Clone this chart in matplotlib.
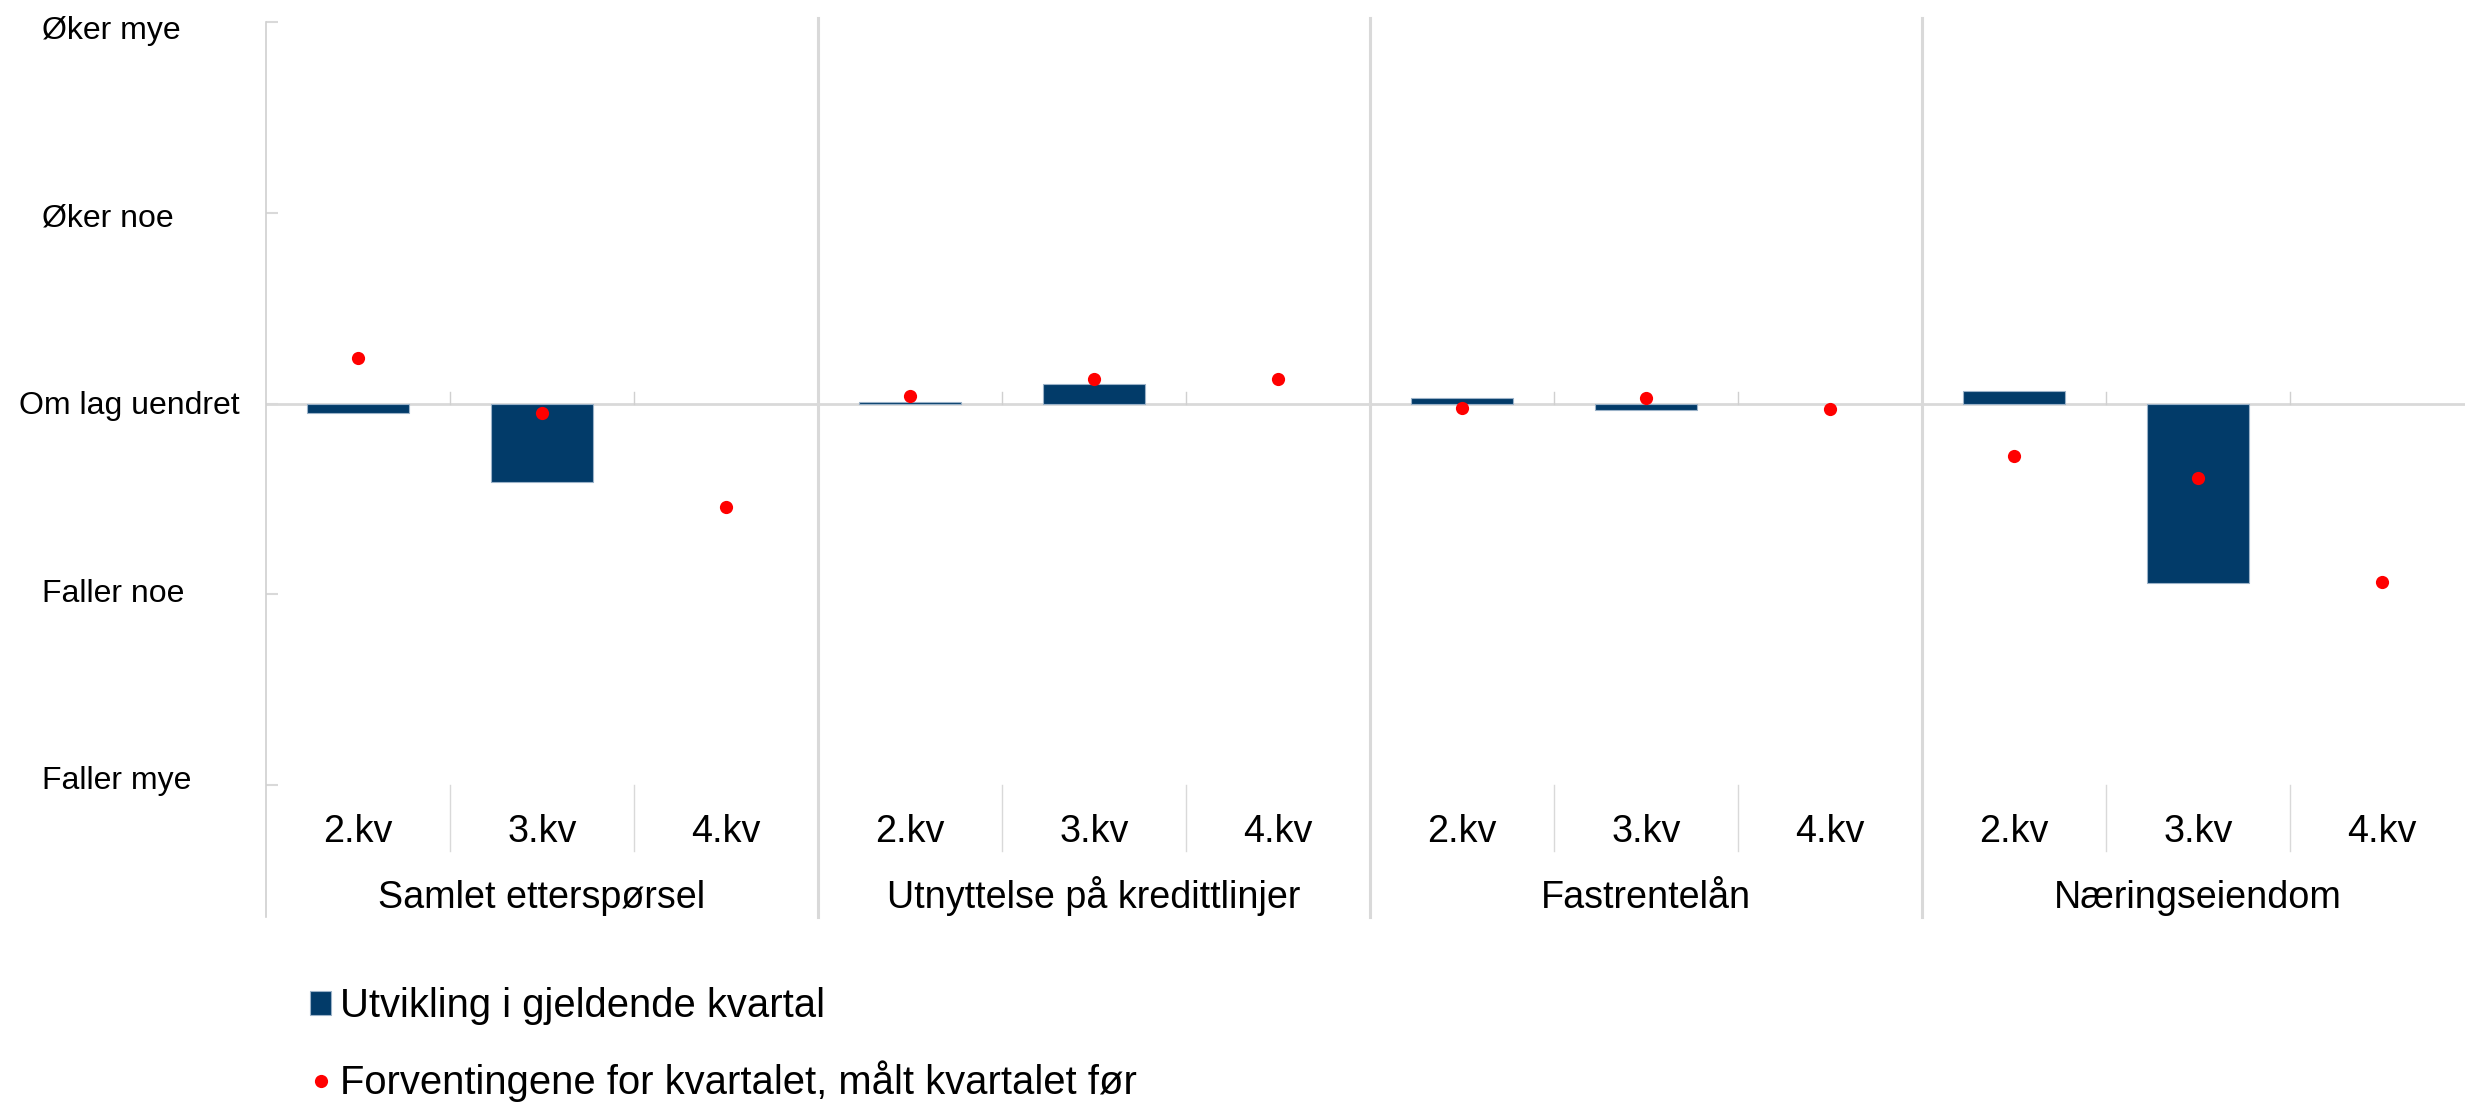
import numpy as np
import matplotlib
matplotlib.use("Agg")
import matplotlib.pyplot as plt
import matplotlib.transforms as mtransforms

plt.rcParams['font.family'] = ['Liberation Sans', 'DejaVu Sans']

# ---------------- data ----------------
groups = ["Samlet etterspørsel", "Utnyttelse på kredittlinjer", "Fastrentelån", "Næringseiendom"]
quarters = ["2.kv", "3.kv", "4.kv"]
actual = [-0.05, -0.41, np.nan, 0.01, 0.10, np.nan, 0.03, -0.035, np.nan, 0.065, -0.94, np.nan]
expected = [0.24, -0.05, -0.54, 0.04, 0.13, 0.13, -0.025, 0.03, -0.03, -0.275, -0.39, -0.935]
ytick_vals = [2, 1, 0, -1, -2]
ytick_labels = ["Øker mye", "Øker noe", "Om lag uendret", "Faller noe", "Faller mye"]
legend_labels = ["Utvikling i gjeldende kvartal", "Forventingene for kvartalet, målt kvartalet før"]

# ---------------- style ----------------
W, H = 2465, 1103
DPI = 100
BAR_COLOR = "#023B69"
BAR_EDGE = "#9BB2C8"
DOT_COLOR = "#FF0000"
GRID = "#D9D9D9"
AXIS_GRAY = "#D0D0D0"

fig = plt.figure(figsize=(W / DPI, H / DPI), dpi=DPI)
ax_left, ax_right = 266, 2474
ax_top, ax_bot = 22, 785
ax = fig.add_axes([ax_left / W, 1 - ax_bot / H, (ax_right - ax_left) / W, (ax_bot - ax_top) / H])

n_q = len(quarters)
n = len(groups) * n_q
x = np.arange(n)

bars = ax.bar(x, actual, width=0.555, color=BAR_COLOR, edgecolor=BAR_EDGE, linewidth=0.8, zorder=3)
dots, = ax.plot(x, expected, linestyle="none", marker="o", markersize=9.5, markeredgewidth=0,
                color=DOT_COLOR, zorder=4)

ax.set_xlim(-0.5, n - 0.5)
ax.set_ylim(min(ytick_vals), max(ytick_vals))
for s in ax.spines.values():
    s.set_visible(False)

# zero line
ax.axhline(0, color=GRID, linewidth=2, zorder=2)

# y ticks (inside, pointing right)
ax.set_yticks(ytick_vals)
ax.set_yticklabels([])
ax.tick_params(axis="y", direction="in", length=8.6, width=1.5, color=GRID, left=True)
ax.set_xticks([])

px = 1.0 / (ax_bot - ax_top)  # axes fraction per pixel (vertical)
bt = mtransforms.blended_transform_factory(ax.transData, ax.transAxes)

# y-axis line extending below plot
ax.plot([-0.5, -0.5], [1, -(917 - ax_bot) * px], transform=bt, color=AXIS_GRAY,
        linewidth=1.2, clip_on=False, zorder=2)
# group separators
for g in range(1, len(groups)):
    xb = g * n_q - 0.5
    ax.plot([xb, xb], [1 + 4 * px, -(917 - ax_bot) * px], transform=bt, color=GRID,
            linewidth=2.2, clip_on=False, zorder=2)
# category separators in label area + small ticks above zero line
unit_px = (ax_bot - ax_top) / (max(ytick_vals) - min(ytick_vals))
for i in range(1, n):
    if i % n_q == 0:
        continue
    xb = i - 0.5
    ax.plot([xb, xb], [0, -(851 - ax_bot) * px], transform=bt, color=GRID,
            linewidth=1.0, clip_on=False, zorder=2)
    ax.plot([xb, xb], [0, 12 / unit_px], color=AXIS_GRAY, linewidth=1.0, zorder=2)

# category labels
FS_X = 27.2
for i in range(n):
    ax.text(x[i], -(842 - ax_bot) * px, quarters[i % n_q], transform=bt, ha="center",
            va="baseline", fontsize=FS_X, clip_on=False)
for g, name in enumerate(groups):
    ax.text(g * n_q + (n_q - 1) / 2, -(908 - ax_bot) * px, name, transform=bt, ha="center",
            va="baseline", fontsize=FS_X, clip_on=False)

# y labels (labels slightly drawn toward the centre, as in the original)
FS_Y = 23
fig.canvas.draw()
renderer = fig.canvas.get_renderer()
yt_base = mtransforms.blended_transform_factory(fig.transFigure, ax.transData)
for v, lab in zip(ytick_vals, ytick_labels):
    off_px = 10.7 + 3.25 * v
    yt = yt_base + mtransforms.ScaledTranslation(0, -off_px / DPI, fig.dpi_scale_trans)
    t = fig.text(42 / W, v, lab, fontsize=FS_Y, ha="left", va="baseline", transform=yt)
    bb = t.get_window_extent(renderer)
    if bb.x1 > 245:
        t.set_x(240 / W)
        t.set_ha("right")

# legend
leg = fig.legend([bars, dots], legend_labels, loc="upper left",
                 bbox_to_anchor=(310 / W, 1 - 987 / H),
                 frameon=False, fontsize=28.8, handlelength=0.525, handleheight=0.525,
                 handletextpad=0.22, labelspacing=0.875, borderpad=0, borderaxespad=0)

fig.savefig("out.png", dpi=DPI)
